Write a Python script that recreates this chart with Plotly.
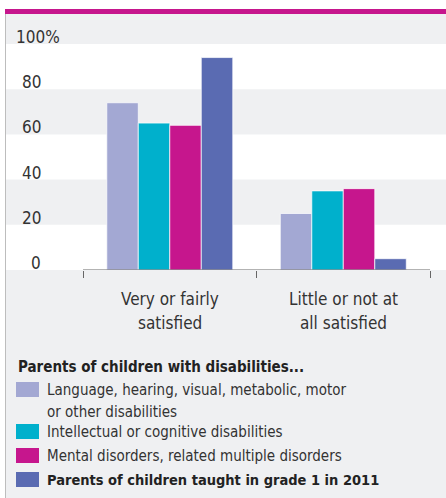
import plotly.graph_objects as go

# ---- data -------------------------------------------------------------
categories = ["Very or fairly satisfied", "Little or not at all satisfied"]
category_labels = ["Very or fairly<br>satisfied", "Little or not at<br>all satisfied"]

series_names = [
    "Language, hearing, visual, metabolic, motor<br>or other disabilities",
    "Intellectual or cognitive disabilities",
    "Mental disorders, related multiple disorders",
    "<b>Parents of children taught in grade 1 in 2011</b>",
]
language_other = [74, 25]
intellectual = [65, 35]
mental = [64, 36]
grade1_2011 = [94, 5]

series_values = [language_other, intellectual, mental, grade1_2011]
series_colors = ["#a3a8d3", "#00b0cc", "#c6168d", "#5a6bb2"]

y_ticks = [0, 20, 40, 60, 80, 100]
legend_title = "<b>Parents of children with disabilities...</b>"

# ---- page geometry (pixels) ------------------------------------------
W, H = 446, 498
L, R, T, B = 6, 0, 14, 228
PW, PH = W - L - R, H - T - B
FONT = "DejaVu Sans Condensed, sans-serif"
BG = "#eff0f2"
TEXT = "#333333"


def px(x):
    return (x - L) / PW


def py(y):
    return (H - B - y) / PH


fig = go.Figure()
for name, vals, col in zip(series_names, series_values, series_colors):
    fig.add_trace(go.Bar(
        x=categories, y=vals, name=name,
        marker=dict(color=col, line=dict(color="rgba(255,255,255,0.7)", width=1)),
        showlegend=False,
    ))

shapes = [
    # panel background
    dict(type="rect", xref="paper", yref="paper", x0=px(6), x1=px(W), y0=py(14), y1=py(H),
         fillcolor=BG, line_width=0, layer="below"),
    # top rule
    dict(type="rect", xref="paper", yref="paper", x0=px(5), x1=px(W), y0=py(14), y1=py(9),
         fillcolor="#c6168d", line_width=0),
    # left edge
    dict(type="line", xref="paper", yref="paper", x0=px(5.5), x1=px(5.5), y0=py(14), y1=py(H),
         line=dict(color="#bdbdbd", width=1)),
    # baseline under the bars
    dict(type="line", xref="x", yref="y", x0=-0.5, x1=1.5, y0=0, y1=0,
         line=dict(color="#666666", width=1)),
]
# alternating white bands
for lo in y_ticks[0:-1:2]:
    shapes.append(dict(type="rect", xref="paper", yref="y", x0=0, x1=1, y0=lo, y1=lo + 20,
                       fillcolor="white", line_width=0, layer="below"))

annotations = []
# y tick labels
for v in y_ticks:
    last = v == y_ticks[-1]
    annotations.append(dict(x=px(14) if last else px(43), y=v, xref="paper", yref="y",
                            text=f"{v}%" if last else str(v),
                            xanchor="left" if last else "right", yanchor="middle",
                            yshift=7, showarrow=False,
                            font=dict(family=FONT, size=17, color=TEXT)))
# category labels, one annotation per line
for c, lab in zip(categories, category_labels):
    for i, line in enumerate(lab.split("<br>")):
        annotations.append(dict(x=c, y=py(299 + 24 * i), xref="x", yref="paper", text=line,
                                xanchor="center", yanchor="middle", showarrow=False,
                                font=dict(family=FONT, size=17, color=TEXT)))

# legend
annotations.append(dict(x=px(16), y=py(367), xref="paper", yref="paper", text=legend_title,
                        xanchor="left", yanchor="middle", showarrow=False,
                        font=dict(family=FONT, size=15, color="#222222")))
swatch_tops = [382, 424, 448, 472]
text_tops = [390, 432, 456, 480]
for name, col, top, tc in zip(series_names, series_colors, swatch_tops, text_tops):
    shapes.append(dict(type="rect", xref="paper", yref="paper", x0=px(16), x1=px(39),
                       y0=py(top), y1=py(top + 15), fillcolor=col, line_width=0))
    bold = "<b>" in name
    for i, line in enumerate(name.split("<br>")):
        annotations.append(dict(x=px(45), y=py(tc + 22 * i), xref="paper", yref="paper",
                                text=line, xanchor="left", yanchor="middle", showarrow=False,
                                font=dict(family=FONT, size=14.5 if bold else 15,
                                          color="#222222" if bold else TEXT)))

fig.update_layout(
    width=W, height=H,
    margin=dict(l=L, r=R, t=T, b=B),
    paper_bgcolor="white",
    plot_bgcolor="rgba(0,0,0,0)",
    barmode="group", bargap=0.274, bargroupgap=0,
    shapes=shapes, annotations=annotations,
    xaxis=dict(type="category", range=[-0.944, 1.592], showticklabels=False,
               ticks="outside", tickson="boundaries", ticklen=7, tickcolor="#666666",
               showgrid=False, showline=False, zeroline=False, fixedrange=True),
    yaxis=dict(range=[0, PH / 2.26], showticklabels=False, showgrid=False,
               zeroline=False, showline=False, fixedrange=True),
    showlegend=False,
)

fig.write_html("out.html")
